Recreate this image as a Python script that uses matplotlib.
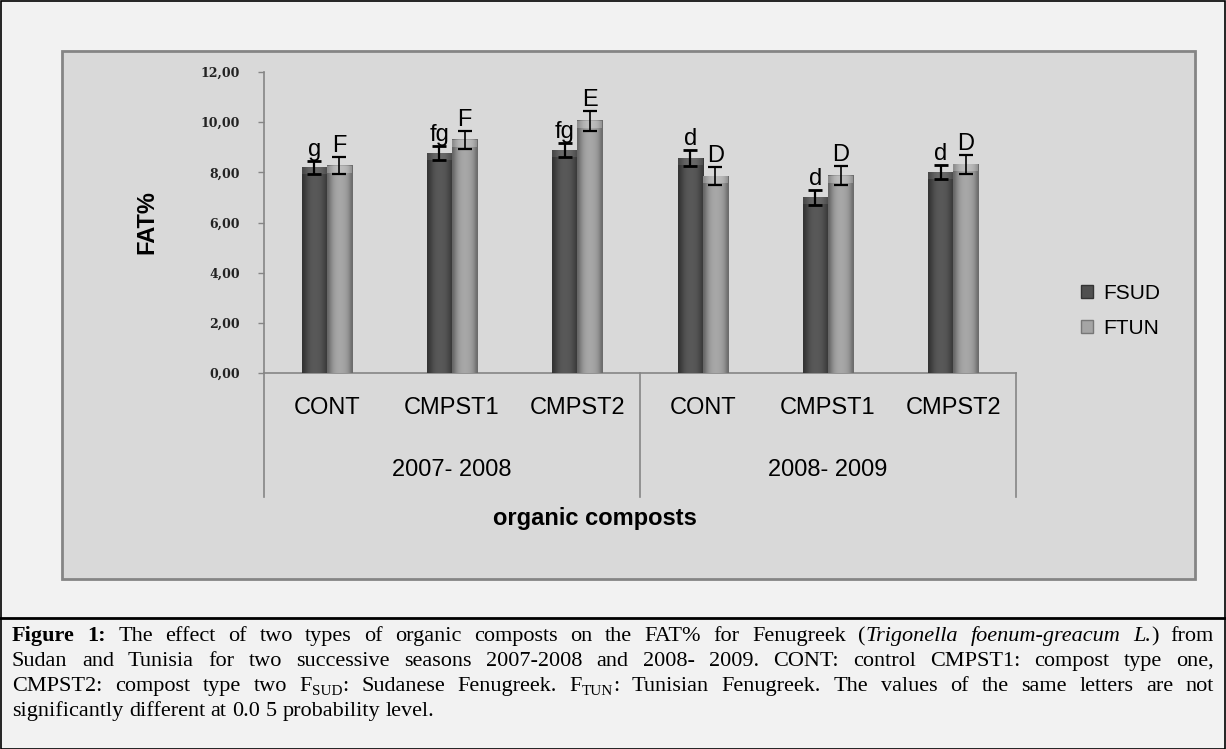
import re
import numpy as np
import matplotlib
matplotlib.use("Agg")
import matplotlib.pyplot as plt
from matplotlib.patches import Rectangle, Patch
from matplotlib.lines import Line2D

# --- data ---
seasons = ["2007- 2008", "2008- 2009"]
treatments = ["CONT", "CMPST1", "CMPST2"]
fsud = [8.20, 8.76, 8.89, 8.56, 7.00, 8.01]
ftun = [8.27, 9.29, 10.05, 7.85, 7.87, 8.32]
fsud_err = [0.25, 0.28, 0.27, 0.32, 0.30, 0.29]
ftun_err = [0.33, 0.36, 0.40, 0.37, 0.38, 0.37]
fsud_letters = ["g", "fg", "fg", "d", "d", "d"]
ftun_letters = ["F", "F", "E", "D", "D", "D"]
yticks = [0, 2, 4, 6, 8, 10, 12]

caption_lines = [
    "**Figure** **1:** The effect of two types of organic composts on the FAT% for Fenugreek (/Trigonella/ /foenum-greacum/ /L./) from",
    "Sudan and Tunisia for two successive seasons 2007-2008 and 2008- 2009. CONT: control CMPST1: compost type one,",
    "CMPST2: compost type two F_SUD: Sudanese Fenugreek. F_TUN: Tunisian Fenugreek. The values of the same letters are not",
    "significantly different at 0.0 5 probability level.",
]

W, H = 1226, 749
SANS = "Liberation Sans"
SERIF = "Liberation Serif"

fig = plt.figure(figsize=(W / 100, H / 100), dpi=100, facecolor="#f2f2f2")

# outer frame + separator above caption
fig.add_artist(Rectangle((0.5 / W, 0.5 / H), (W - 1.5) / W, (H - 1.5) / H, transform=fig.transFigure,
                         fill=False, ec="black", lw=1.2))
fig.add_artist(Line2D([0, 1], [1 - 618 / H] * 2, transform=fig.transFigure, color="black", lw=2))

# chart area panel
fig.add_artist(Rectangle((62 / W, 1 - 579 / H), 1133 / W, 528 / H, transform=fig.transFigure,
                         fc="#d9d9d9", ec="#858585", lw=2, zorder=0))

ax = fig.add_axes([264 / W, 1 - 373 / H, 752 / W, 301 / H])
ax.set_facecolor("none")

x = np.arange(len(fsud))
bw = 0.2
b1 = ax.bar(x - bw / 2, fsud, bw, color="#555555", zorder=2)
b2 = ax.bar(x + bw / 2, ftun, bw, color="#9f9f9f", zorder=2)

# fake the Excel bevel: horizontal gradient drawn inside each bar
grad_dark = np.array([[0.20, 0.26, 0.31, 0.34, 0.35, 0.35, 0.34, 0.32, 0.28, 0.22]])
grad_light = np.array([[0.40, 0.52, 0.60, 0.64, 0.66, 0.66, 0.64, 0.61, 0.55, 0.42]])
for bars, g in ((b1, grad_dark), (b2, grad_light)):
    for p in bars:
        x0, w, h = p.get_x(), p.get_width(), p.get_height()
        ax.imshow(g, cmap="gray", vmin=0, vmax=1, extent=[x0, x0 + w, 0, h],
                  aspect="auto", zorder=3, interpolation="bicubic")
        ax.add_patch(Rectangle((x0, h - 0.28), w, 0.28, fc="white", alpha=0.25 if bars is b2 else 0.1,
                               ec="none", zorder=3.5))

ax.errorbar(x - bw / 2, fsud, yerr=fsud_err, fmt="none", ecolor="black", elinewidth=1.6,
            capsize=5, capthick=2, zorder=5)
ax.errorbar(x + bw / 2, ftun, yerr=ftun_err, fmt="none", ecolor="black", elinewidth=1.2,
            capsize=5, capthick=1.6, zorder=5)

for i in range(len(x)):
    ax.annotate(fsud_letters[i], (x[i] - bw / 2, fsud[i] + fsud_err[i]), xytext=(0, 3.5),
                textcoords="offset points", ha="center", va="baseline", fontsize=17, family=SANS)
    ax.annotate(ftun_letters[i], (x[i] + bw / 2, ftun[i] + ftun_err[i]), xytext=(0, 3.5),
                textcoords="offset points", ha="center", va="baseline", fontsize=17, family=SANS)

ax.set_xlim(-0.5, len(x) - 0.5)
ax.set_ylim(0, 12)
ax.set_yticks(yticks)
ax.set_yticklabels([f"{v:.2f}".replace(".", ",") for v in yticks], fontsize=9, fontweight="bold",
                   family="DejaVu Serif", color="#222222")
ax.tick_params(axis="y", direction="out", length=4.5, width=1, color="#858585", pad=13)
ax.set_xticks([])
for s in ("top", "right"):
    ax.spines[s].set_visible(False)
ax.spines["left"].set_color("#858585")
ax.spines["bottom"].set_color("#858585")
ax.spines["left"].set_linewidth(1.2)
ax.spines["bottom"].set_linewidth(1.2)

# multi-level category axis
drop = (497 - 373) / 301
for xd in (0, 0.5, 1):
    ax.plot([xd, xd], [0, -drop], transform=ax.transAxes, color="#858585", lw=1.2, clip_on=False)
for i in range(len(x)):
    ax.text(x[i], -(408 - 373) / 25.08, treatments[i % 3], ha="center", va="center",
            fontsize=17, family=SANS)
for j, s in enumerate(seasons):
    ax.text(1 + 3 * j, -(470 - 373) / 25.08, s, ha="center", va="center", fontsize=17, family=SANS)

ax.set_ylabel("FAT%", fontsize=17, fontweight="bold", family=SANS, labelpad=0)
ax.yaxis.set_label_coords(-(264 - 158) / 752, 0.5)
ax.text((595 - 264) / 752, -(519 - 373) / 301, "organic composts", transform=ax.transAxes, ha="center",
        va="center", fontsize=17, fontweight="bold", family=SANS)

handles = [Patch(fc="#505050", ec="#333333"), Patch(fc="#a5a5a5", ec="#777777")]
fig.legend(handles, ["FSUD", "FTUN"], loc="center left", bbox_to_anchor=(1062 / W, 1 - 311 / H),
           frameon=False, prop={"family": SANS, "size": 15}, handlelength=0.6, handleheight=0.6,
           handletextpad=0.5, labelspacing=0.75)

# --- caption, justified word by word ---
fig.canvas.draw()
renderer = fig.canvas.get_renderer()
fs = 16
token_re = re.compile(r"\*\*(.+?)\*\*|/(.+?)/|_([A-Z]+)|([^*/_]+)")


def runs_of(word):
    out = []
    for m in token_re.finditer(word):
        if m.group(1):
            out.append((m.group(1), dict(fontweight="bold"), 0))
        elif m.group(2):
            out.append((m.group(2), dict(fontstyle="italic"), 0))
        elif m.group(3):
            out.append((m.group(3), dict(fontsize=fs * 0.68), -4))
        else:
            out.append((m.group(4), {}, 0))
    return out


def draw_word(word, x0, y0, draw=True):
    xc = x0
    for txt, kw, dy in runs_of(word):
        props = dict(fontsize=fs, family=SERIF)
        props.update(kw)
        t = fig.text(xc / W, (H - y0 + dy) / H, txt, ha="left", va="baseline", **props)
        wpx = t.get_window_extent(renderer).width
        if not draw:
            t.remove()
        xc += wpx
    return xc - x0


left, right = 12, 1214
baselines = [641, 666, 691, 716]
space_w = fs * 100 / 72 * 0.25
for k, line in enumerate(caption_lines):
    words = line.split(" ")
    widths = [draw_word(w, 0, baselines[k], draw=False) for w in words]
    if k < len(caption_lines) - 1:
        gap = (right - left - sum(widths)) / (len(words) - 1)
    else:
        gap = space_w
    xc = left
    for w, wd in zip(words, widths):
        draw_word(w, xc, baselines[k])
        xc += wd + gap

fig.savefig("out.png", dpi=100, facecolor=fig.get_facecolor())
